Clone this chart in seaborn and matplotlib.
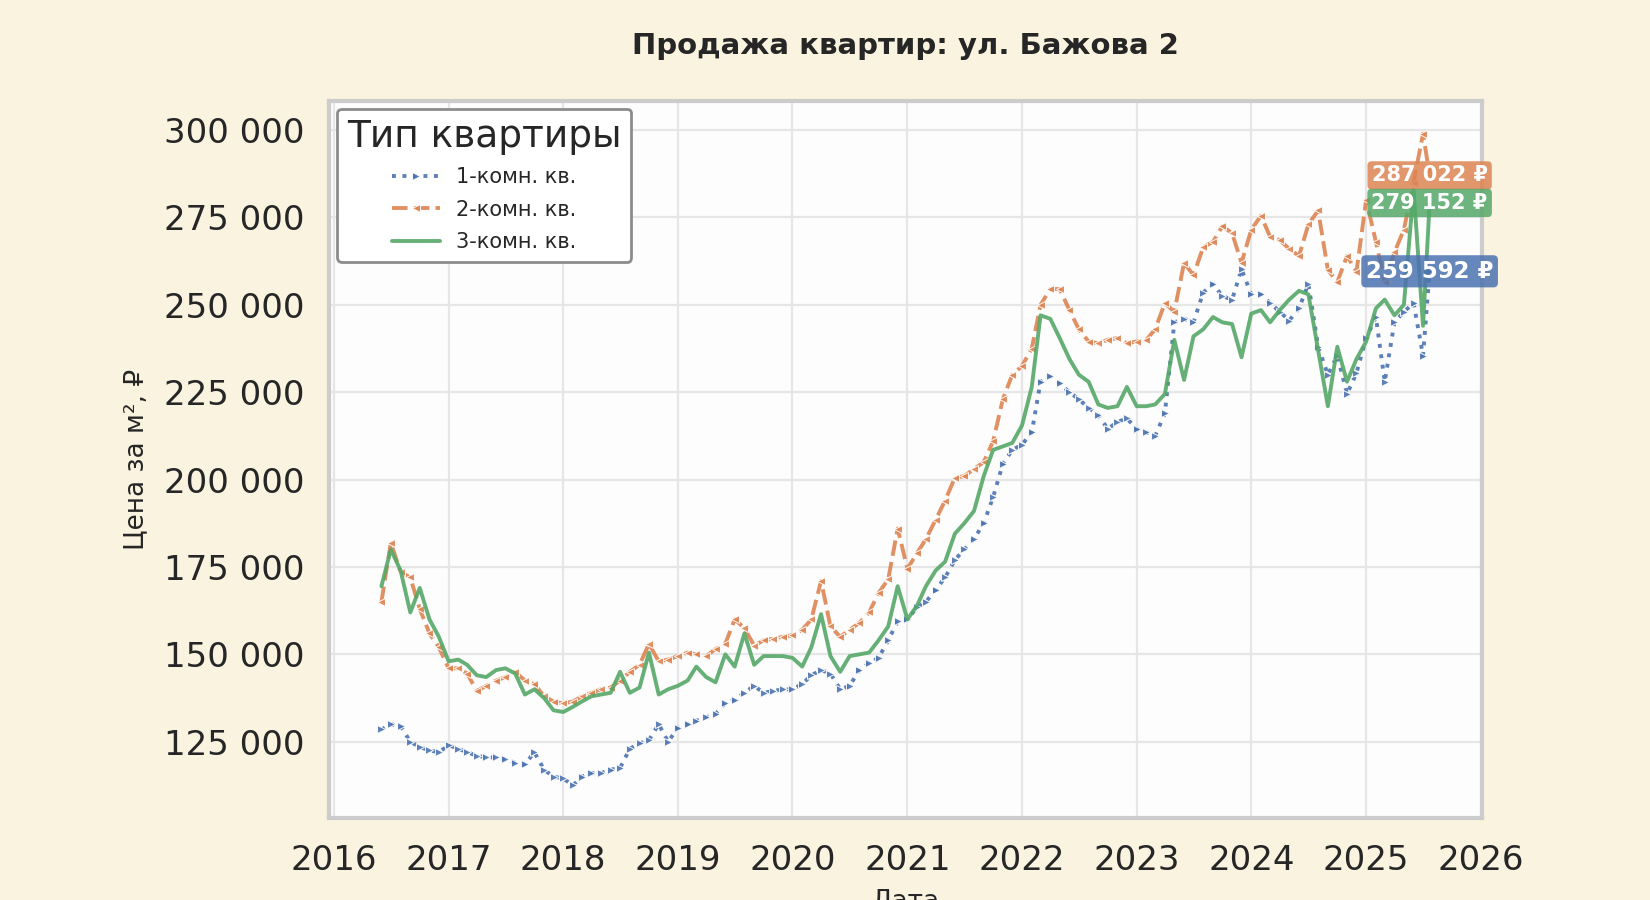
import pandas as pd
import seaborn as sns
import matplotlib.pyplot as plt
import matplotlib.dates as mdates
from matplotlib.ticker import MultipleLocator, FuncFormatter

# monthly readings, last point is late July 2025
dates = list(pd.date_range('2016-06-01', '2025-07-01', freq='MS')) + [pd.Timestamp('2025-07-22')]

one_room = [
    128500, 130000, 129500, 125000, 123500, 122500, 122000,
    124000, 123000, 122000, 121000, 120500, 120500, 120000, 119000, 118500, 122000, 117000, 115000,
    114500, 112500, 115000, 116000, 116000, 117000, 117500, 123000, 124500, 125500, 130000, 125000,
    129000, 130000, 131000, 132000, 133000, 136000, 137000, 139000, 141000, 139000, 139500, 140000,
    140000, 141500, 144000, 145500, 144500, 140000, 141000, 145500, 147500, 149000, 154000, 159500,
    160000, 163500, 165000, 168500, 172000, 177000, 180000, 183000, 187500, 195000, 204500, 208500,
    210000, 213500, 228000, 229500, 227500, 225000, 223000, 220500, 218500, 214500, 216500, 217500,
    214500, 213500, 212500, 219000, 245000, 246000, 245000, 253500, 256000, 252500, 251500, 260200,
    253000, 253000, 250500, 248000, 245500, 249000, 256000, 238000, 230000, 235500, 224500, 230500,
    240500, 246500, 228000, 245000, 248000, 250500, 235500, 259592,
]
two_room = [
    165000, 182000, 173500, 172000, 163000, 156000, 152000,
    146000, 146000, 144500, 139500, 141000, 142500, 143500, 145000, 142500, 141500, 138000, 136500,
    136000, 136500, 138000, 139000, 140000, 140500, 142500, 145000, 147000, 153000, 148000, 148500,
    149500, 150500, 150000, 149500, 151500, 153000, 160000, 157500, 152500, 154000, 154500, 155000,
    155500, 157000, 160000, 171000, 158000, 155000, 157000, 159000, 162000, 167500, 171500, 186000,
    174500, 179000, 183000, 188500, 194000, 200500, 201000, 203000, 205000, 211000, 223000, 230000,
    232500, 237500, 250000, 254500, 254500, 248500, 243000, 239500, 239000, 240000, 240500, 239000,
    239500, 240000, 243000, 250500, 248000, 262000, 258500, 266500, 268000, 272500, 270500, 262000,
    271500, 275500, 269500, 268500, 266000, 264000, 273000, 277000, 260000, 256500, 264000, 259500,
    280000, 268000, 256500, 265000, 271500, 285000, 299000, 287022,
]
three_room = [
    169500, 180000, 174000, 162000, 169000, 160000, 155000,
    148000, 148500, 147000, 144000, 143500, 145500, 146000, 144500, 138500, 140000, 137500, 134000,
    133500, 135000, 136500, 138000, 138500, 139000, 145000, 139000, 140500, 150500, 138500, 140000,
    141000, 142500, 146500, 143500, 142000, 150000, 146500, 156000, 147000, 149500, 149500, 149500,
    149000, 146500, 152000, 161500, 149500, 145000, 149500, 150000, 150500, 154000, 158000, 169500,
    160000, 164000, 169500, 174000, 176500, 184500, 187500, 191000, 201000, 208500, 209500, 210500,
    215500, 226500, 247000, 246000, 240500, 234500, 230000, 228000, 221500, 220500, 221000, 226500,
    221000, 221000, 221500, 224500, 240000, 228500, 241000, 243000, 246500, 245000, 244500, 235000,
    247500, 248500, 245000, 248500, 251500, 254000, 253000, 237000, 221000, 238000, 228000, 234500,
    239500, 249000, 251500, 247000, 250000, 283000, 244000, 279152,
]

types = ['1-комн. кв.', '2-комн. кв.', '3-комн. кв.']
colors = ['#4C72B0', '#DD8452', '#55A868']

sns.set_theme(style='whitegrid', rc={
    'axes.facecolor': '#FDFDFD',
    'axes.edgecolor': '#CCCCCC',
    'axes.linewidth': 3,
    'grid.color': '#E6E6E6',
    'grid.linewidth': 1.6,
    'text.color': '#262626',
    'axes.labelcolor': '#262626',
    'xtick.color': '#262626',
    'ytick.color': '#262626',
})

df = pd.DataFrame({'Дата': dates, types[0]: one_room, types[1]: two_room, types[2]: three_room})
df = df.melt(id_vars='Дата', var_name='Тип квартиры', value_name='Цена')

fig, ax = plt.subplots(figsize=(16.5, 9), dpi=100)
fig.patch.set_facecolor('#FAF3E0')
ax.set_position([0.1994, 0.0911, 0.6988, 0.7967])

sns.lineplot(data=df, x='Дата', y='Цена', hue='Тип квартиры', style='Тип квартиры',
             palette=colors, dashes={types[0]: (1, 1.7), types[1]: (4, 1.6), types[2]: ''},
             linewidth=2.8, alpha=0.9, ax=ax)

ax.set_title('Продажа квартир: ул. Бажова 2', fontsize=21, fontweight='bold', pad=34)
ax.set_xlabel('Дата', fontsize=19, labelpad=8)
ax.set_ylabel('Цена за м², ₽', fontsize=19, labelpad=10)

ax.xaxis.set_major_locator(mdates.YearLocator())
ax.xaxis.set_major_formatter(mdates.DateFormatter('%Y'))
ax.yaxis.set_major_locator(MultipleLocator(25000))
ax.yaxis.set_major_formatter(FuncFormatter(lambda v, p: f'{int(v):,}'.replace(',', ' ')))
ax.tick_params(axis='both', labelsize=24.5, length=0)
ax.tick_params(axis='x', pad=19)
ax.tick_params(axis='y', pad=18)

sns.move_legend(ax, 'upper left', title='Тип квартиры', fontsize=15, title_fontsize=27,
                frameon=True, fancybox=True, borderaxespad=0.4, handlelength=2.3,
                labelspacing=0.6, borderpad=0.45)
leg = ax.get_legend()
leg.get_frame().set_edgecolor('#8C8C8C')
leg.get_frame().set_linewidth(2)
leg.get_frame().set_facecolor('white')
leg.get_frame().set_alpha(1)

# small triangle markers on the 1- and 2-room lines
marks = ['>', '<', '']
for line, m in zip(ax.lines[:3], marks):
    line.set_marker(m)
    line.set_markersize(6)
for h, m in zip(leg.legend_handles, marks):
    h.set_marker(m)
    h.set_markersize(6)

for t, c, vals, fs in zip(types, colors, [one_room, two_room, three_room], [16.5, 15, 15]):
    ax.text(dates[-1], vals[-1], f'{vals[-1]:,} ₽'.replace(',', ' '), ha='center', va='center',
            color='white', fontsize=fs, fontweight='bold', zorder=5,
            bbox=dict(boxstyle='round,pad=0.2', fc=c, ec='none', alpha=0.85))

fig.savefig('out.png', dpi=100, facecolor=fig.get_facecolor())
